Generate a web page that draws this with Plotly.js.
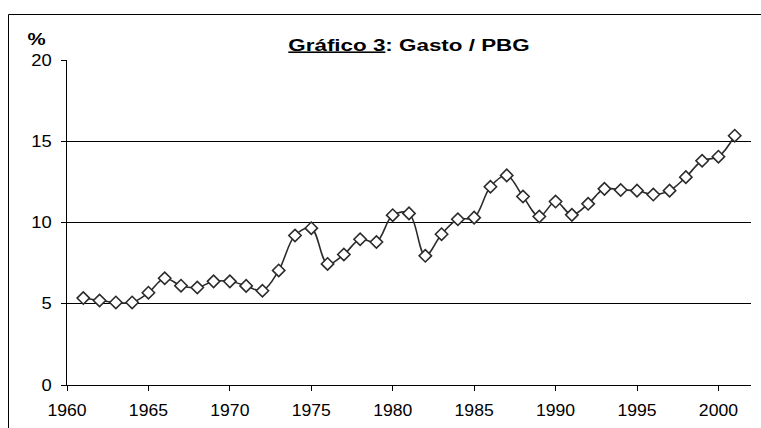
<!DOCTYPE html>
<html>
<head>
<meta charset="utf-8">
<script src="https://cdn.plot.ly/plotly-3.0.1.min.js"></script>
<style>
  html, body { margin: 0; padding: 0; background: #fff; }
  #chart { width: 761px; height: 428px; }
</style>
</head>
<body>
<div id="chart"></div>
<script>
// Data
const years = [1961, 1962, 1963, 1964, 1965, 1966, 1967, 1968, 1969, 1970,
               1971, 1972, 1973, 1974, 1975, 1976, 1977, 1978, 1979, 1980,
               1981, 1982, 1983, 1984, 1985, 1986, 1987, 1988, 1989, 1990,
               1991, 1992, 1993, 1994, 1995, 1996, 1997, 1998, 1999, 2000, 2001];
const gastoPBG = [5.35, 5.2, 5.08, 5.08, 5.68, 6.57, 6.11, 6.0, 6.38, 6.38,
                  6.1, 5.8, 7.05, 9.2, 9.65, 7.45, 8.03, 8.97, 8.8, 10.45,
                  10.56, 7.95, 9.28, 10.2, 10.3, 12.2, 12.9, 11.6, 10.37, 11.29,
                  10.47, 11.15, 12.07, 12.0, 11.96, 11.72, 11.96, 12.79, 13.8, 14.05, 15.34];
const xTicks = [1960, 1965, 1970, 1975, 1980, 1985, 1990, 1995, 2000];
const yTicks = [0, 5, 10, 15, 20];
const titleText = '<b><u>Gráfico 3</u>: Gasto / PBG</b>';
const yUnit = '<b>%</b>';

const trace = {
  x: years,
  y: gastoPBG,
  type: 'scatter',
  mode: 'lines+markers',
  line: { color: '#2b2b2b', width: 1.6, shape: 'spline', smoothing: 1 },
  marker: { symbol: 'diamond', size: 9.5, color: '#ffffff', line: { color: '#2b2b2b', width: 1.6 } },
  hoverinfo: 'x+y',
  showlegend: false
};

const layout = {
  width: 761,
  height: 428,
  margin: { l: 67, r: 10, t: 60, b: 43 },
  paper_bgcolor: '#ffffff',
  plot_bgcolor: '#ffffff',
  font: { family: 'Liberation Sans, Arial, sans-serif', color: '#000000', size: 16 },
  title: {
    text: titleText,
    font: { family: 'Liberation Sans, Arial, sans-serif', size: 16, color: '#000000' },
    x: 0.5, xref: 'paper', xanchor: 'center',
    y: 1 - 45 / 428, yref: 'container', yanchor: 'middle'
  },
  xaxis: {
    type: 'linear',
    range: [1960, 2002],
    tickmode: 'array',
    tickvals: xTicks,
    ticktext: xTicks.map(String),
    ticks: 'outside',
    ticklen: 5,
    tickcolor: '#000000',
    showline: true,
    linecolor: '#000000',
    linewidth: 1,
    showgrid: false,
    zeroline: false,
    ticklabelstandoff: 6,
    tickfont: { size: 16 }
  },
  yaxis: {
    range: [0, 20],
    tickmode: 'array',
    tickvals: yTicks,
    ticktext: yTicks.map(String),
    ticks: 'outside',
    ticklen: 5,
    tickcolor: '#000000',
    showline: true,
    linecolor: '#000000',
    linewidth: 1,
    showgrid: true,
    gridcolor: '#000000',
    gridwidth: 1,
    zeroline: false,
    ticklabelstandoff: 6,
    tickfont: { size: 16 }
  },
  annotations: [{
    text: yUnit,
    xref: 'paper', yref: 'paper',
    x: (36 - 67) / 684, y: (385 - 39) / 325,
    xanchor: 'center', yanchor: 'middle',
    showarrow: false,
    font: { size: 17, color: '#000000' }
  }],
  shapes: [{
    type: 'rect',
    xref: 'paper', yref: 'paper',
    x0: (8.5 - 67) / 684, x1: (770 - 67) / 684,
    y0: (385 - 440) / 325, y1: (385 - 14.5) / 325,
    line: { color: '#000000', width: 1 },
    fillcolor: 'rgba(0,0,0,0)'
  }]
};

// anchor: 0 = left edge, 0.5 = centre, 1 = right edge of the text box
function stretchX(el, factor, anchor) {
  if (!el) return;
  const bb = el.getBBox();
  const cx = bb.x + bb.width * anchor;
  const prev = el.getAttribute('transform') || '';
  el.setAttribute('transform', prev + ' translate(' + cx + ',0) scale(' + factor + ',1) translate(' + (-cx) + ',0)');
}

Plotly.newPlot('chart', [trace], layout, { displayModeBar: false, staticPlot: true }).then(function (gd) {
  // the reference text is drawn wider than regular Arial
  stretchX(gd.querySelector('.gtitle'), 1.4, 0.5);
  stretchX(gd.querySelector('.annotation-text'), 1.2, 0.5);
  gd.querySelectorAll('.xtick text').forEach(function (t) { stretchX(t, 1.1, 0.5); });
  gd.querySelectorAll('.ytick text').forEach(function (t) { stretchX(t, 1.15, 1); });
});
</script>
</body>
</html>
